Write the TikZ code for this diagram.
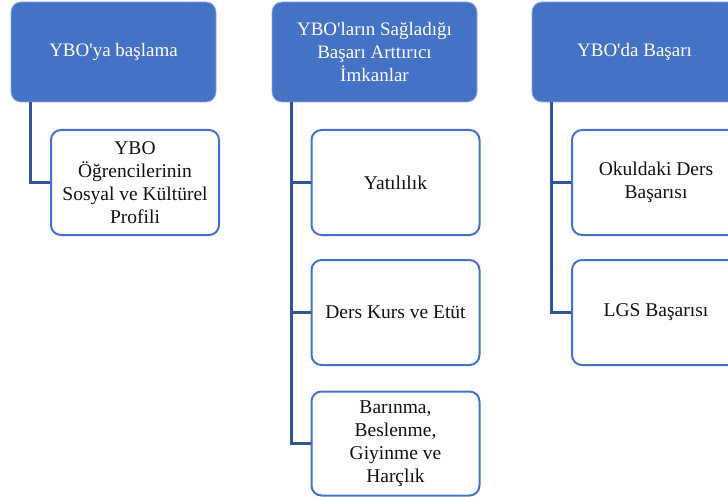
\documentclass[tikz,border=0pt]{standalone}
\usepackage{fontspec}
\setmainfont{Liberation Serif}
\usepackage{tikz}
\usetikzlibrary{arrows.meta,calc}
\definecolor{headblue}{HTML}{4472C4}
\definecolor{headedge}{HTML}{8FAADC}
\definecolor{linkblue}{HTML}{2F5597}
\definecolor{ink}{HTML}{111111}
\newcommand{\apos}{\textquotesingle}
\tikzset{
  headcard/.style={draw=headedge,fill=headblue,line width=0.8pt,rounded corners=10pt,
                   align=center,text=white,minimum width=205pt,minimum height=100pt,
                   inner sep=4pt,font=\fontsize{19}{23}\selectfont},
  itemcard/.style={draw=headblue,fill=white,line width=2pt,rounded corners=10pt,
                   align=center,text=ink,minimum width=168pt,minimum height=105pt,
                   inner sep=4pt,font=\fontsize{19.5}{23}\selectfont},
  linkline/.style={draw=linkblue,line width=2.6pt}
}
\begin{document}
\begin{tikzpicture}[x=1pt,y=-1pt]
    \path[use as bounding box] (0,0) rectangle (728,497);
    % top row
    \node[headcard] (start) at (113.5,52) {YBO\apos ya başlama};
    \node[headcard] (means) at (374.5,52)
      {YBO\apos ların Sağladığı\\Başarı Arttırıcı\\İmkanlar};
    \node[headcard] (success) at (634.5,52) {YBO\apos da Başarı};
    % first column
    \node[itemcard] (profile) at (135,182.5)
      {YBO\\Öğrencilerinin\\Sosyal ve Kültürel\\Profili};
    % second column
    \node[itemcard] (board) at (395.5,182.5) {Yatılılık};
    \node[itemcard] (course) at (395.5,312.5) {Ders Kurs ve Etüt};
    \node[itemcard,minimum height=104pt] (care) at (395.5,443.5)
      {Barınma,\\Beslenme,\\Giyinme ve\\Harçlık};
    % third column
    \node[itemcard] (lesson) at (656,182.5) {Okuldaki Ders\\Başarısı};
    \node[itemcard] (lgs) at (656,312.5) {LGS Başarısı};
    % connectors
    \draw[linkline] ($(start.south west)+(20,0)$) |- (profile.west);
    \draw[linkline] ($(means.south west)+(20,0)$) |- (care.west);
    \draw[linkline] ($(means.south west)+(20,0)$) |- (board.west);
    \draw[linkline] ($(means.south west)+(20,0)$) |- (course.west);
    \draw[linkline] ($(success.south west)+(20,0)$) |- (lgs.west);
    \draw[linkline] ($(success.south west)+(20,0)$) |- (lesson.west);
  \end{tikzpicture}
\end{document}
